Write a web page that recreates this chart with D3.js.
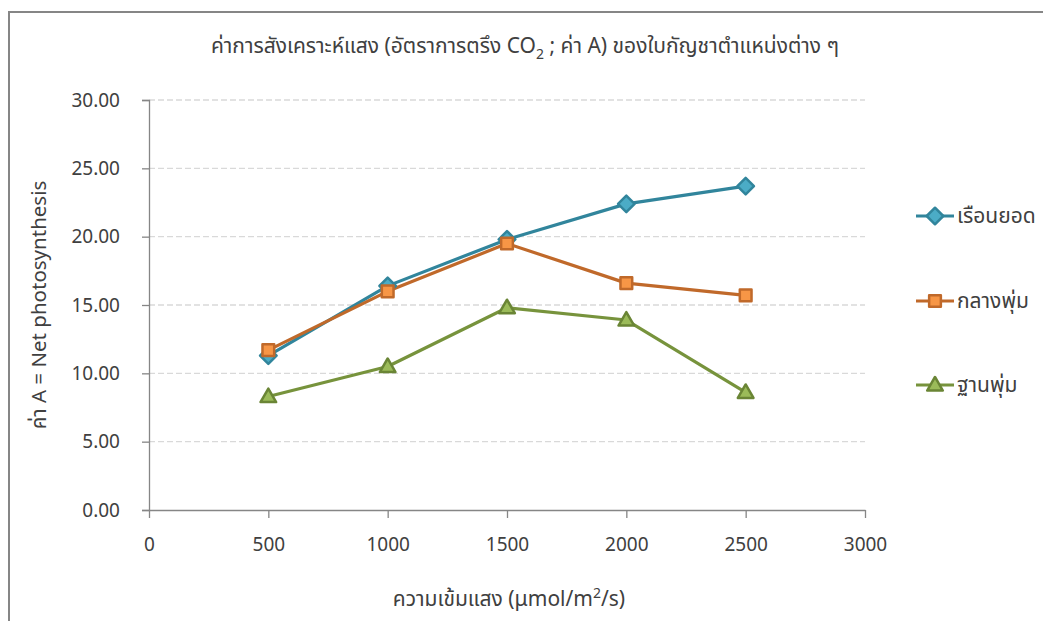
<!DOCTYPE html>
<html>
<head>
<meta charset="utf-8">
<script src="https://cdn.jsdelivr.net/npm/d3@7"></script>
<style>
  html, body { margin: 0; padding: 0; background: #fff; }
  svg text { font-family: "Tahoma", "Leelawadee UI", "Noto Sans Thai", "Noto Sans", "DejaVu Sans", sans-serif; fill: #404040; }
</style>
</head>
<body>
<svg id="chart" width="1043" height="621"></svg>
<script>
// Light intensity levels (µmol/m²/s)
const lightLevels = [500, 1000, 1500, 2000, 2500];

// Net photosynthesis (A) per leaf position
const seriesNames = ["เรือนยอด", "กลางพุ่ม", "ฐานพุ่ม"];
const topCanopy   = [11.3, 16.4, 19.8, 22.4, 23.7];
const midBush     = [11.7, 16.0, 19.5, 16.6, 15.7];
const baseBush    = [8.3, 10.5, 14.8, 13.9, 8.6];

const xTicks = [0, 500, 1000, 1500, 2000, 2500, 3000];
const yTicks = [0, 5, 10, 15, 20, 25, 30];

const series = [
  { name: seriesNames[0], values: topCanopy, line: "#31859C", fill: "#4BACC6", stroke: "#31859C", shape: "diamond" },
  { name: seriesNames[1], values: midBush,   line: "#C0692A", fill: "#F79646", stroke: "#C0692A", shape: "square" },
  { name: seriesNames[2], values: baseBush,  line: "#77933C", fill: "#9BBB59", stroke: "#6A8535", shape: "triangle" }
];

const svg = d3.select("#chart");

// outer chart frame (top and left edges visible)
svg.append("path")
  .attr("d", "M9,621 V12 H1043")
  .attr("fill", "none")
  .attr("stroke", "#868686")
  .attr("stroke-width", 2);

const plot = { left: 149, right: 865, top: 100, bottom: 510 };

const x = d3.scaleLinear().domain([0, 3000]).range([plot.left, plot.right]);
const y = d3.scaleLinear().domain([0, 30]).range([plot.bottom, plot.top]);

// dashed horizontal gridlines
svg.append("g")
  .selectAll("line")
  .data(yTicks.filter(d => d > 0))
  .join("line")
  .attr("x1", plot.left).attr("x2", plot.right)
  .attr("y1", d => y(d)).attr("y2", d => y(d))
  .attr("stroke", "#D9D9D9")
  .attr("stroke-width", 1.3)
  .attr("stroke-dasharray", "6,3");

// y axis
const yAxis = svg.append("g")
  .attr("transform", `translate(${plot.left},0)`)
  .call(d3.axisLeft(y).tickValues(yTicks).tickFormat(d3.format(".2f")).tickSize(7).tickPadding(22));
yAxis.select(".domain").attr("stroke", "#868686").attr("stroke-width", 1.3);
yAxis.selectAll(".tick line").attr("stroke", "#868686").attr("stroke-width", 1.3);
yAxis.selectAll("text").attr("font-size", 19).style("fill", "#404040");

// x axis
const xAxis = svg.append("g")
  .attr("transform", `translate(0,${plot.bottom})`)
  .call(d3.axisBottom(x).tickValues(xTicks).tickFormat(d3.format("d")).tickSize(8).tickSizeOuter(0).tickPadding(20));
xAxis.select(".domain").attr("stroke", "#868686").attr("stroke-width", 1.3);
xAxis.selectAll(".tick line").attr("stroke", "#868686").attr("stroke-width", 1.3);
xAxis.selectAll("text").attr("font-size", 19).style("fill", "#404040");

// marker shapes
const symbolFor = {
  diamond: d3.symbol().type(d3.symbolDiamond2).size(175),
  square: d3.symbol().type(d3.symbolSquare2).size(175),
  triangle: d3.symbol().type(d3.symbolTriangle2).size(175)
};

const lineGen = d3.line()
  .x((d, i) => x(lightLevels[i]))
  .y(d => y(d));

series.forEach(s => {
  svg.append("path")
    .datum(s.values)
    .attr("d", lineGen)
    .attr("fill", "none")
    .attr("stroke", s.line)
    .attr("stroke-width", 3.2)
    .attr("stroke-linejoin", "round");
});

series.forEach(s => {
  svg.append("g")
    .selectAll("path")
    .data(s.values)
    .join("path")
    .attr("transform", (d, i) => `translate(${x(lightLevels[i])},${y(d) + (s.shape === "triangle" ? 1 : 0)})`)
    .attr("d", symbolFor[s.shape])
    .attr("fill", s.fill)
    .attr("stroke", s.stroke)
    .attr("stroke-width", 2.5)
    .attr("stroke-linejoin", "round");
});

// legend
const legendY = [216, 301, 385];
series.forEach((s, i) => {
  const g = svg.append("g").attr("transform", `translate(916,${legendY[i]})`);
  g.append("line").attr("x1", 0).attr("x2", 38).attr("y1", 0).attr("y2", 0)
    .attr("stroke", s.line).attr("stroke-width", 3.2);
  g.append("path")
    .attr("transform", `translate(19,${s.shape === "triangle" ? 1 : 0})`)
    .attr("d", symbolFor[s.shape])
    .attr("fill", s.fill).attr("stroke", s.stroke).attr("stroke-width", 2.5)
    .attr("stroke-linejoin", "round");
  g.append("text").attr("x", 41).attr("y", 0).attr("dy", "0.35em")
    .attr("font-size", 21).text(s.name);
});

// title with subscript
const title = svg.append("text")
  .attr("x", 525).attr("y", 53)
  .attr("text-anchor", "middle")
  .attr("font-size", 21);
title.append("tspan").text("ค่าการสังเคราะห์แสง (อัตราการตรึง CO");
title.append("tspan").attr("font-size", 14).attr("dy", 6).text("2");
title.append("tspan").attr("dy", -6).text(" ; ค่า A) ของใบกัญชาตำแหน่งต่าง ๆ");

// axis titles
const xTitle = svg.append("text")
  .attr("x", 509).attr("y", 606)
  .attr("text-anchor", "middle")
  .attr("font-size", 21);
xTitle.append("tspan").text("ความเข้มแสง (μmol/m");
xTitle.append("tspan").attr("font-size", 14).attr("dy", -8).text("2");
xTitle.append("tspan").attr("dy", 8).text("/s)");

svg.append("text")
  .attr("transform", "translate(46,305) rotate(-90)")
  .attr("text-anchor", "middle")
  .attr("font-size", 20.5)
  .text("ค่า A = Net photosynthesis");
</script>
</body>
</html>
